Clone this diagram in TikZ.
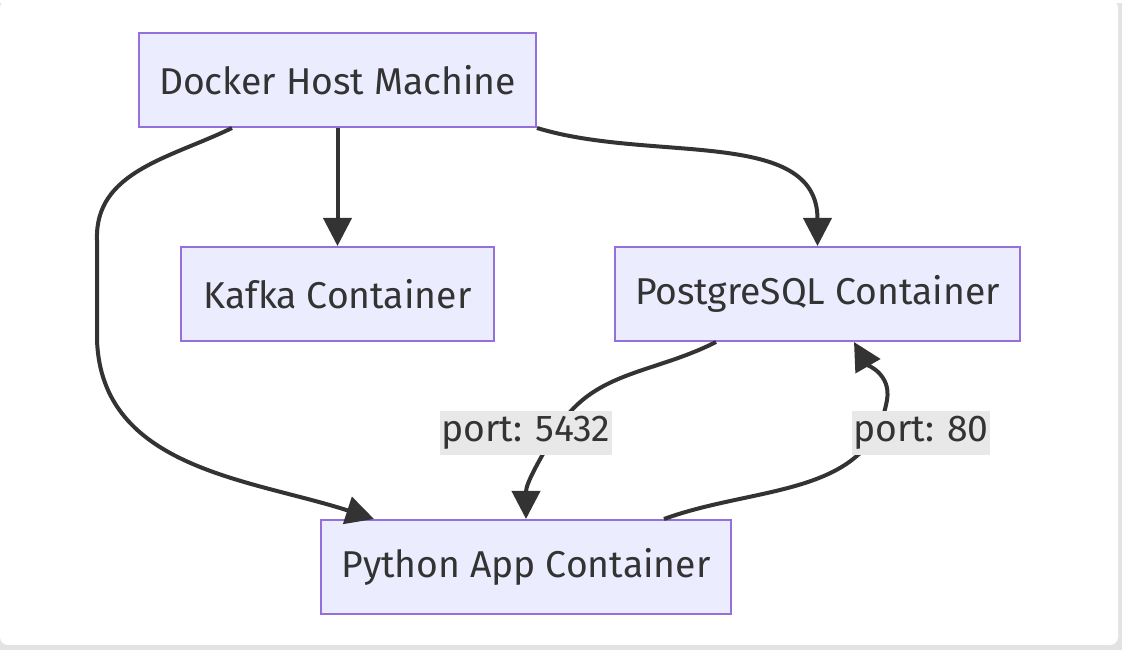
\documentclass[tikz,border=0pt]{standalone}
\usepackage{fontspec}
\setmainfont{Fira Sans}
\usetikzlibrary{arrows.meta}
\definecolor{boxfill}{HTML}{ECECFF}
\definecolor{boxline}{HTML}{9370DB}
\definecolor{ink}{HTML}{333333}
\definecolor{tagfill}{HTML}{E8E8E8}
\tikzstyle{container}=[draw=boxline, fill=boxfill, line width=1.5pt, minimum height=70.5pt, inner sep=0pt, text=ink, font=\fontsize{28}{32}\selectfont]
\tikzstyle{link}=[draw=ink, line width=3pt, -{Triangle[length=21pt,width=21pt]}]
\tikzstyle{tag}=[fill=tagfill, text=ink, inner sep=1pt, minimum height=33pt, font=\fontsize{28}{32}\selectfont]

\begin{document}
\begin{tikzpicture}[x=0.75pt, y=0.75pt]
  \fill[gray!22] (0,0) rectangle (1122,647);
  \fill[white, rounded corners=6pt] (0,5) rectangle (1118,650);
  \useasboundingbox (0,0) rectangle (1122,647);

  \node[container, minimum width=297.75pt] (docker) at (337.5,570) {Docker Host Machine};
  \node[container, minimum width=234.75pt] (kafka) at (337.5,356) {Kafka Container};
  \node[container, minimum width=303.75pt] (postgres) at (817.5,356) {PostgreSQL Container};
  \node[container, minimum width=307.5pt] (python) at (526,83) {Python App Container};

  \coordinate (p5432) at (555,217);
  \coordinate (p80) at (887,250);

  \draw[link] (docker) -- (kafka);
  \draw[link] (docker.south east) to[out=-17, in=90] (postgres.north);
  \draw[link] ([xshift=70.5pt]docker.south west)
    to[out=206, in=92] (97,410) -- (97,310)
    to[out=-88, in=162] ([xshift=40.5pt]python.north west);
  \draw[link] ([xshift=76.5pt]postgres.south west)
    to[out=207, in=60] (p5432)
    to[out=240, in=90] (python.north);
  \draw[link] ([xshift=-51pt]python.north east)
    to[out=20, in=-100] (p80)
    to[out=80, in=-60] ([xshift=180pt]postgres.south west);

  \node[tag] (tag5432) at (526,217) {port: 5432};
  \node[tag] (tag80) at (921,217) {port: 80};
\end{tikzpicture}
\end{document}
